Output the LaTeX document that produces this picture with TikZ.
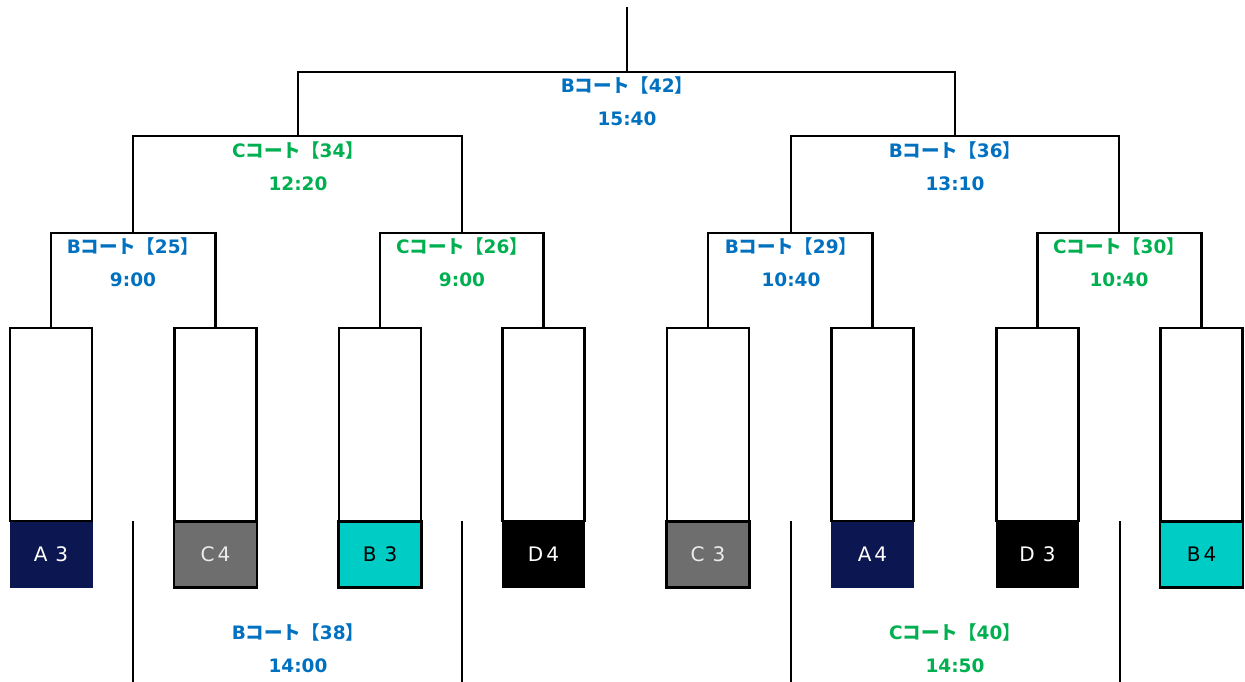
\documentclass[tikz,border=0pt]{standalone}
\usepackage{fontspec}
\setmainfont{DejaVu Sans}
\newfontfamily\cjk{Noto Sans CJK JP}
\definecolor{cblue}{HTML}{0070C0}
\definecolor{cgreen}{HTML}{00B050}
\definecolor{navy}{HTML}{0C1650}
\definecolor{gry}{HTML}{6E6E6E}
\definecolor{cyn}{HTML}{00CCC6}
\newcommand\court[3]{#1{\cjk\bfseries コート【}#2{\cjk\bfseries 】}\\#3}
\tikzset{
  ln/.style={line width=2.4pt},
  wbox/.style={draw=black,line width=2.4pt,fill=white,minimum width=82pt,minimum height=193pt,inner sep=0pt},
  nbox/.style={line width=2.4pt,minimum width=83pt,minimum height=66pt,inner sep=0pt,font=\fontsize{20}{21}\selectfont},
  navybox/.style={nbox,fill=navy,text=white},
  blkbox/.style={nbox,fill=black,text=white},
  grybox/.style={nbox,fill=gry,draw=black,text=white!92!black},
  cynbox/.style={nbox,fill=cyn,draw=black,text=black},
  mlab/.style={align=center,inner sep=0pt,font=\fontsize{18.5}{32.5}\selectfont\bfseries},
  blab/.style={mlab,text=cblue},
  glab/.style={mlab,text=cgreen}
}
\begin{document}
\begin{tikzpicture}[x=1pt,y=-1pt]
\useasboundingbox (0,0) rectangle (1245,682);
% player boxes
\foreach \i/\x in {1/51,2/215.5,3/380,4/543.5,5/708,6/872.5,7/1037.5,8/1201.5}{
  \node[wbox] (w\i) at (\x,424.5) {};
}
\node[navybox] (n1) at (51,554.5) {A\hspace{8pt}3};
\node[grybox]  (n2) at (215.5,554.5) {C\hspace{3pt}4};
\node[cynbox]  (n3) at (380,554.5) {B\hspace{8pt}3};
\node[blkbox]  (n4) at (543.5,554.5) {D\hspace{3pt}4};
\node[grybox]  (n5) at (708,554.5) {C\hspace{8pt}3};
\node[navybox] (n6) at (872.5,554.5) {A\hspace{3pt}4};
\node[blkbox]  (n7) at (1037.5,554.5) {D\hspace{8pt}3};
\node[cynbox]  (n8) at (1201.5,554.5) {B\hspace{3pt}4};
% match points
\coordinate (g25) at (133,233);
\coordinate (g26) at (462,233);
\coordinate (g29) at (791,233);
\coordinate (g30) at (1119,233);
\coordinate (g34) at (298,136);
\coordinate (g36) at (955,136);
\coordinate (g42) at (627,72);
\coordinate (top) at (627,7);
% brackets
\draw[ln] (w1.north) |- (g25) -| (w2.north);
\draw[ln] (w3.north) |- (g26) -| (w4.north);
\draw[ln] (w5.north) |- (g29) -| (w6.north);
\draw[ln] (w7.north) |- (g30) -| (w8.north);
\draw[ln] (g25) |- (g34);
\draw[ln] (g26) |- (g34);
\draw[ln] (g29) |- (g36);
\draw[ln] (g30) |- (g36);
\draw[ln] (g34) |- (g42);
\draw[ln] (g36) |- (g42);
\draw[ln] (g42) -- (top);
% third-round lines at the bottom
\foreach \x [count=\k] in {133,462,791,1120}{
  \coordinate (bt\k) at (\x,521);
  \coordinate (bb\k) at (\x,682);
  \draw[ln] (bt\k) -- (bb\k);
}
% labels
\node[blab] (l42) at (627,101) {\court{B}{42}{15:40}};
\node[glab] (l34) at (298,166) {\court{C}{34}{12:20}};
\node[blab] (l36) at (955,166) {\court{B}{36}{13:10}};
\node[blab] (l25) at (133,262) {\court{B}{25}{9:00}};
\node[glab] (l26) at (462,262) {\court{C}{26}{9:00}};
\node[blab] (l29) at (791,262) {\court{B}{29}{10:40}};
\node[glab] (l30) at (1119,262) {\court{C}{30}{10:40}};
\node[blab] (l38) at (298,648) {\court{B}{38}{14:00}};
\node[glab] (l40) at (955,648) {\court{C}{40}{14:50}};
\end{tikzpicture}
\end{document}
